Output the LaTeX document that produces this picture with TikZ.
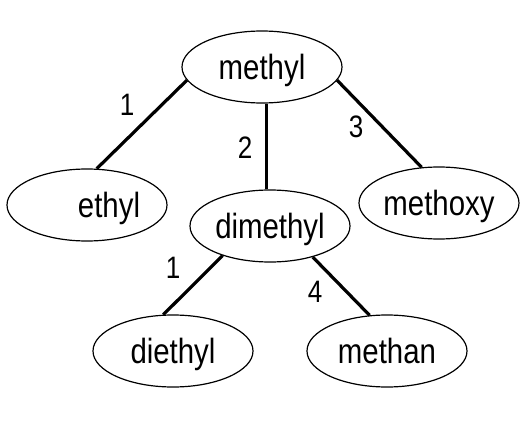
\documentclass[tikz,border=0pt]{standalone}
\usepackage{fontspec}
\setmainfont[FakeStretch=0.84]{Liberation Sans}
\usepackage{tikz}
\usetikzlibrary{shapes}
\tikzset{
  chem/.style={shape=ellipse,draw,line width=1.2pt,minimum width=160pt,minimum height=72pt,inner sep=0pt,text depth=0pt,font=\fontsize{35}{38}\selectfont},
  wt/.style={inner sep=0pt,text depth=0pt,font=\fontsize{31}{34}\selectfont},
  bond/.style={line width=3.2pt}
}
\begin{document}
\begin{tikzpicture}[x=1pt,y=-1pt]
\useasboundingbox (0,0) rectangle (530,428);
\node[chem](methyl) at (262,67) {methyl};
\node[chem](ethyl) at (87,205) {\hspace*{44pt}ethyl};
\node[chem](dimethyl) at (270,226) {dimethyl};
\node[chem](methoxy) at (439,203) {methoxy};
\node[chem](diethyl) at (173,351) {diethyl};
\node[chem](methan) at (387,351) {methan};
\node[wt](w1) at (127,105) {1};
\node[wt](w2) at (245,148) {2};
\node[wt](w3) at (356,127) {3};
\node[wt](w4) at (173,268) {1};
\node[wt](w5) at (315,292) {4};
\draw[bond](methyl.190)--(ethyl.75);
\draw[bond](dimethyl.95)--(dimethyl.95 |- methyl.south);
\draw[bond](methyl.-10)--(methoxy.116);
\draw[bond](dimethyl.212)--(diethyl.105);
\draw[bond](dimethyl.-36)--(methan.116);
\end{tikzpicture}
\end{document}
